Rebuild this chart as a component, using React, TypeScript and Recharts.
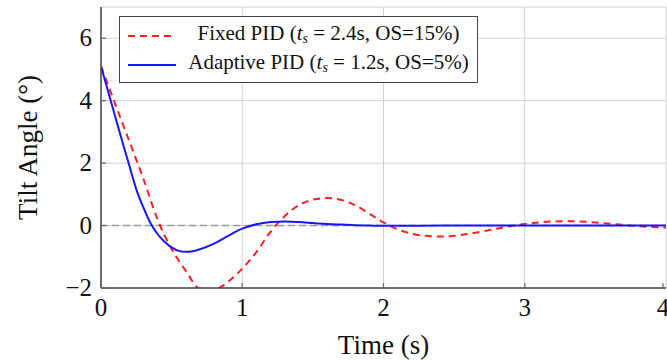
import React from 'react';
import {
  LineChart,
  Line,
  XAxis,
  YAxis,
  CartesianGrid,
  ReferenceLine
} from 'recharts';

// time samples (s) and tilt angle (deg)
const fixedTime = [
  0, 0.1, 0.2, 0.3, 0.4, 0.5, 0.6, 0.7, 0.8, 0.9,
  1.0, 1.1, 1.2, 1.3, 1.4, 1.5, 1.6, 1.7, 1.8, 1.9,
  2.0, 2.1, 2.2, 2.3, 2.4, 2.5, 2.6, 2.7, 2.8, 2.9,
  3.0, 3.1, 3.2, 3.3, 3.4, 3.5, 3.6, 3.7, 3.8, 3.9, 4.0
];
const fixedAngle = [
  5.1, 3.9, 2.7, 1.5, 0.2, -0.75, -1.45, -2.02, -2.05, -1.8,
  -1.38, -0.85, -0.2, 0.3, 0.65, 0.83, 0.88, 0.82, 0.65, 0.38,
  0.1, -0.12, -0.26, -0.33, -0.35, -0.33, -0.27, -0.19, -0.1, -0.02,
  0.05, 0.1, 0.13, 0.14, 0.13, 0.1, 0.06, 0.02, -0.02, -0.05, -0.06
];

const adaptiveTime = [
  0, 0.05, 0.1, 0.15, 0.2, 0.25, 0.3, 0.35, 0.4, 0.45, 0.5, 0.55, 0.6, 0.65, 0.7,
  0.8, 0.9, 1.0, 1.1, 1.2, 1.3, 1.4, 1.5, 1.6, 1.7, 1.8, 1.9, 2.0,
  2.5, 3.0, 3.5, 4.0
];
const adaptiveAngle = [
  5.1, 4.3, 3.5, 2.7, 1.93, 1.16, 0.58, 0.08, -0.27, -0.52, -0.7, -0.81, -0.84, -0.82, -0.76,
  -0.58, -0.33, -0.1, 0.04, 0.11, 0.13, 0.11, 0.08, 0.05, 0.03, 0.01, 0, -0.01,
  0, 0, 0, 0
];

const xTicks = [0, 1, 2, 3, 4];
const yTicks = [-2, 0, 2, 4, 6];

const fixedData = fixedTime.map((t, i) => ({ t, angle: fixedAngle[i] }));
const adaptiveData = adaptiveTime.map((t, i) => ({ t, angle: adaptiveAngle[i] }));

const FONT = 'Liberation Serif';
const RED = '#ff1f1f';
const BLUE = '#1616ff';
const FRAME = '#444';
const TICK = '#666';

const fmt = (v: number) => (v < 0 ? `\u2212${Math.abs(v)}` : `${v}`);

const BottomTick = (p: any) => (
  <g>
    <line x1={p.x} y1={p.y} x2={p.x} y2={p.y - 5} stroke={TICK} strokeWidth={1.2} />
    <text x={p.x} y={p.y + 28} textAnchor="middle" style={{ fontFamily: FONT, fontSize: 25 }} fill="#111">
      {fmt(p.payload.value)}
    </text>
  </g>
);

const LeftTick = (p: any) => (
  <g>
    <line x1={p.x} y1={p.y} x2={p.x + 5} y2={p.y} stroke={TICK} strokeWidth={1.2} />
    <text x={p.x - 9} y={p.y + 8} textAnchor="end" style={{ fontFamily: FONT, fontSize: 25 }} fill="#111">
      {fmt(p.payload.value)}
    </text>
  </g>
);

const RightTick = (p: any) => (
  <line x1={p.x} y1={p.y} x2={p.x - 5} y2={p.y} stroke={TICK} strokeWidth={1.2} />
);

const TopTick = (p: any) => (
  <line x1={p.x} y1={p.y} x2={p.x} y2={p.y + 5} stroke={TICK} strokeWidth={1.2} />
);

const Sub = () => (
  <>
    <i>t</i>
    <sub style={{ fontSize: 14, fontStyle: 'italic', verticalAlign: -3 }}>s</sub>
  </>
);

const LegendBox = () => (
  <div
    style={{
      position: 'absolute',
      left: 119,
      top: 16,
      width: 357,
      height: 65,
      border: `1.5px solid ${FRAME}`,
      background: '#fff',
      fontFamily: FONT,
      fontSize: 21,
      color: '#111',
      lineHeight: '28px'
    }}
  >
    <div style={{ display: 'flex', alignItems: 'center', height: 32, marginTop: 3 }}>
      <svg width={56} height={10} style={{ marginLeft: 8 }}>
        <line x1={0} y1={5} x2={46} y2={5} stroke={RED} strokeWidth={2} strokeDasharray="7 5" />
      </svg>
      <span style={{ flex: 1, textAlign: 'center', marginRight: 4, whiteSpace: 'nowrap' }}>
        Fixed PID (<Sub />&nbsp;=&nbsp;2.4s, OS=15%)
      </span>
    </div>
    <div style={{ display: 'flex', alignItems: 'center', height: 26 }}>
      <svg width={56} height={10} style={{ marginLeft: 8 }}>
        <line x1={0} y1={5} x2={48} y2={5} stroke={BLUE} strokeWidth={2} />
      </svg>
      <span style={{ flex: 1, textAlign: 'center', marginRight: 4, whiteSpace: 'nowrap' }}>
        Adaptive PID (<Sub />&nbsp;=&nbsp;1.2s, OS=5%)
      </span>
    </div>
  </div>
);

export default function App() {
  return (
    <div style={{ position: 'absolute', left: 0, top: 0, width: 667, height: 360, background: '#fff' }}>
      <LineChart width={667} height={360} margin={{ top: 7, right: 1, left: 0, bottom: 0 }}>
        <CartesianGrid stroke="#d2d2d2" strokeWidth={1} />
        <XAxis
          dataKey="t"
          type="number"
          domain={[0, 4]}
          ticks={xTicks}
          height={72}
          tickSize={0}
          tickMargin={0}
          tickLine={false}
          axisLine={{ stroke: FRAME, strokeWidth: 1.5 }}
          tick={BottomTick}
          allowDataOverflow
          label={{ value: 'Time (s)', position: 'insideBottom', offset: 6, style: { fontFamily: FONT, fontSize: 27 }, fill: '#111' }}
        />
        <XAxis
          xAxisId="top"
          orientation="top"
          type="number"
          domain={[0, 4]}
          ticks={xTicks}
          height={0}
          tickSize={0}
          tickMargin={0}
          tickLine={false}
          axisLine={{ stroke: FRAME, strokeWidth: 1.5 }}
          tick={TopTick}
        />
        <YAxis
          type="number"
          domain={[-2, 7]}
          ticks={yTicks}
          width={101}
          tickSize={0}
          tickMargin={0}
          tickLine={false}
          axisLine={{ stroke: FRAME, strokeWidth: 1.5 }}
          tick={LeftTick}
          allowDataOverflow
          label={{
            value: 'Tilt Angle (°)',
            angle: -90,
            position: 'insideLeft',
            offset: 27,
            fill: '#111',
            style: { textAnchor: 'middle', fontFamily: FONT, fontSize: 27 }
          }}
        />
        <YAxis
          yAxisId="right"
          orientation="right"
          type="number"
          domain={[-2, 7]}
          ticks={yTicks}
          width={0}
          tickSize={0}
          tickMargin={0}
          tickLine={false}
          axisLine={{ stroke: FRAME, strokeWidth: 1.5 }}
          tick={RightTick}
        />
        <ReferenceLine y={0} stroke="#9a9a9a" strokeWidth={1.5} strokeDasharray="7 4" />
        <Line
          data={fixedData}
          dataKey="angle"
          type="monotone"
          stroke={RED}
          strokeWidth={2}
          strokeDasharray="7 5"
          dot={false}
          isAnimationActive={false}
        />
        <Line
          data={adaptiveData}
          dataKey="angle"
          type="monotone"
          stroke={BLUE}
          strokeWidth={2}
          dot={false}
          isAnimationActive={false}
        />
      </LineChart>
      <LegendBox />
    </div>
  );
}
